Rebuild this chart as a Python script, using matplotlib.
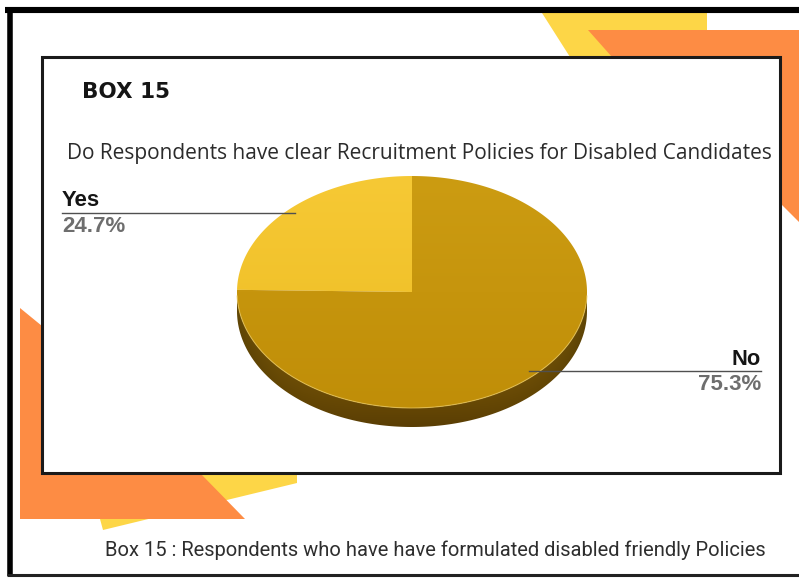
import numpy as np
import matplotlib
matplotlib.use("Agg")
import matplotlib.pyplot as plt
from matplotlib.patches import Polygon, Rectangle
from matplotlib import font_manager

# ---- data ----
categories = ["Yes", "No"]
shares = [24.7, 75.3]
box_label = "BOX 15"
question = "Do Respondents have clear Recruitment Policies for Disabled Candidates"
caption = "Box 15 : Respondents who have have formulated disabled friendly Policies"

W, H = 799, 578
fig = plt.figure(figsize=(W / 100, H / 100), dpi=100)
ax = fig.add_axes([0, 0, 1, 1])
ax.set_xlim(0, W)
ax.set_ylim(H, 0)
ax.axis("off")
fig.patch.set_facecolor("white")

YELLOW = "#FDD647"
ORANGE = "#FD8C44"


def has_font(name):
    try:
        font_manager.findfont(name, fallback_to_default=False)
        return True
    except Exception:
        return False


narrow = next((f for f in ["Liberation Sans Narrow", "Roboto", "DejaVu Sans"] if has_font(f)),
              "DejaVu Sans")

# ---- decorative shapes behind the panel ----
ax.add_patch(Polygon([(542, 13), (707, 13), (707, 57), (570, 57)], closed=True,
                     fc=YELLOW, ec="none", zorder=1))
ax.add_patch(Polygon([(588, 30), (799, 30), (799, 222), (781, 204), (781, 57), (612, 57)],
                     closed=True, fc=ORANGE, ec="none", zorder=2))
ax.add_patch(Polygon([(100, 519), (200, 473), (297, 473), (297, 483), (103, 530)],
                     closed=True, fc=YELLOW, ec="none", zorder=1))
ax.add_patch(Polygon([(20, 308), (42, 326), (42, 473), (200, 473), (245, 519), (20, 519)],
                     closed=True, fc=ORANGE, ec="none", zorder=2))

# outer frame
ax.plot([5, 799], [10, 10], color="black", lw=4.4, solid_capstyle="butt", zorder=3)
ax.plot([9.5, 9.5], [8, 576], color="black", lw=4.0, solid_capstyle="butt", zorder=3)
ax.plot([7, 799], [575, 575], color="#222", lw=2.2, solid_capstyle="butt", zorder=3)

# inner panel
ax.add_patch(Rectangle((42, 57), 738, 416, fc="white", ec="#1a1a1a", lw=2.2, zorder=4))


# ---- 3D pie ----
cx, cy, rx, ry, depth = 412, 292, 175, 116, 19


def ell(t_deg, dy=0.0, f=1.0):
    t = np.radians(t_deg)
    return cx + f * rx * np.cos(t), cy - f * ry * np.sin(t) + dy


def gradient_fill(path, extent, rgb_top, rgb_bot, zorder, horiz_dark=0.0):
    x0, x1, y0, y1 = extent
    ny, nx = 200, 200
    v = np.linspace(0, 1, ny)[:, None]
    u = np.linspace(-1, 1, nx)[None, :]
    c0 = np.array(matplotlib.colors.to_rgb(rgb_top))
    c1 = np.array(matplotlib.colors.to_rgb(rgb_bot))
    img = c0[None, None, :] * (1 - v[..., None]) + c1[None, None, :] * v[..., None]
    img = img * (1 - horiz_dark * (u[..., None] ** 4))
    img = np.clip(img, 0, 1)
    im = ax.imshow(img, extent=(x0, x1, y1, y0), origin="upper", zorder=zorder,
                   interpolation="bilinear", aspect="auto")
    patch = Polygon(path, closed=True, fc="none", ec="none", transform=ax.transData)
    ax.add_patch(patch)
    im.set_clip_path(patch)


# side wall (front half of rim)
ts = np.linspace(180, 360, 200)
side = [ell(t) for t in ts] + [ell(t, depth) for t in ts[::-1]]
gradient_fill(side, (cx - rx, cx + rx, cy, cy + ry + depth), "#A27709", "#5A3E04", 5,
              horiz_dark=0.35)

# top faces, angles taken from the shares
start = 90.0
angles = []
for s in shares:
    sweep = 360.0 * s / sum(shares)
    angles.append((start, start + sweep))
    start += sweep

light = ["#F6C935", "#CC9C12"]
dark = ["#EDBC22", "#C08E08"]
for (a0, a1), c_l, c_d in zip(angles, light, dark):
    ts = np.linspace(a0, a1, 300)
    pts = [(cx, cy)] + [ell(t) for t in ts]
    gradient_fill(pts, (cx - rx, cx + rx, cy - ry, cy + ry), c_l, c_d, 6)

# subtle highlight on the front rim
rim = np.array([ell(t) for t in np.linspace(182, 358, 200)])
ax.plot(rim[:, 0], rim[:, 1], color="#E9C65A", lw=0.8, alpha=0.7, zorder=7)


# ---- labels ----
def fit_text(x, y, s, width, ha="left", **kw):
    t = ax.text(x, y, s, ha=ha, va="baseline", zorder=10, **kw)
    fig.canvas.draw()
    r = fig.canvas.get_renderer()
    w = t.get_window_extent(r).width
    t.set_fontsize(t.get_fontsize() * width / w)
    return t


fit_text(82, 98, box_label, 88, fontsize=14, fontweight="bold", color="#151515",
         family="DejaVu Sans")
fit_text(67, 159, question, 701, fontsize=13, color="#2b2b2b", family="Open Sans")
fit_text(105, 556, caption, 662, fontsize=13, color="#2e2e2e", family=narrow)

# leader lines, anchored near the rim at each slice's mid angle
for (a0, a1), lab, val in zip(angles, categories, shares):
    px, py = ell((a0 + a1) / 2, f=0.955)
    if lab == "Yes":
        ax.plot([62, px], [py, py], color="#505050", lw=1.0, zorder=9)
        fit_text(62, py - 7, lab, 38, fontsize=12, fontweight="bold", color="#151515",
                 family="Liberation Sans")
        fit_text(62, py + 19, f"{val}%", 63, fontsize=12, color="#6e6e6e",
                 fontweight="bold", family="Liberation Sans")
    else:
        ax.plot([px, 761], [py, py], color="#505050", lw=1.0, zorder=9)
        fit_text(761, py - 6, lab, 29, ha="right", fontsize=12, fontweight="bold",
                 color="#151515", family="Liberation Sans")
        fit_text(761, py + 19, f"{val}%", 63, ha="right", fontsize=12, color="#6e6e6e",
                 fontweight="bold", family="Liberation Sans")

fig.savefig("out.png", dpi=100, facecolor="white")
